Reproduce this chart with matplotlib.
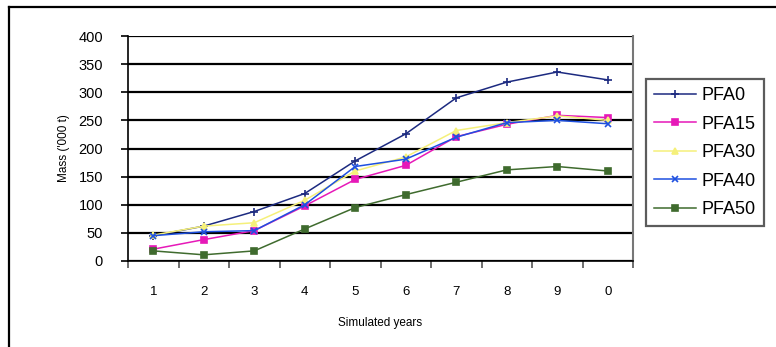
import matplotlib
matplotlib.use("Agg")
import matplotlib.pyplot as plt
from matplotlib.lines import Line2D

plt.rcParams['font.family'] = ['Liberation Sans', 'DejaVu Sans']

years = ["1", "2", "3", "4", "5", "6", "7", "8", "9", "0"]
pfa0 = [45, 62, 88, 120, 178, 226, 290, 318, 336, 322]
pfa15 = [21, 38, 54, 98, 145, 170, 221, 243, 259, 255]
pfa30 = [46, 62, 68, 108, 160, 185, 232, 246, 258, 250]
pfa40 = [45, 52, 54, 100, 168, 181, 220, 246, 250, 244]
pfa50 = [18, 11, 18, 57, 95, 118, 140, 162, 168, 160]
series_names = ["PFA0", "PFA15", "PFA30", "PFA40", "PFA50"]

W, H = 776, 347
fig = plt.figure(figsize=(W / 100, H / 100), dpi=100)
ax = fig.add_axes([128 / W, 1 - 261 / H, (633 - 128) / W, (261 - 36) / H])

x = list(range(len(years)))
styles = [
    (pfa0, '#1c2a80', '+', 6),
    (pfa15, '#e619b8', 's', 4),
    (pfa30, '#f5f07a', '^', 4),
    (pfa40, '#1e50e0', 'x', 5),
    (pfa50, '#3f6b2e', 's', 4),
]
handles = []
for (vals, col, mk, ms), name in zip(styles, series_names):
    h, = ax.plot(x, vals, color=col, lw=1.1, marker=mk, ms=ms,
                 mfc=col, mec=col, mew=1.2, label=name, zorder=3)
    handles.append(h)

ax.set_xlim(-0.5, len(years) - 0.5)
ax.set_ylim(0, 400)
ax.set_yticks(range(0, 401, 50))
ax.set_xticks(x)
ax.set_xticklabels(years)
ax.set_xticks([i - 0.5 for i in range(len(years) + 1)], minor=True)
ax.tick_params(axis='x', which='major', length=0, pad=18, labelsize=9.5)
ax.tick_params(axis='x', which='minor', length=5, width=1.2, direction='out', color='#555555')
ax.tick_params(axis='y', length=5, width=1.2, direction='out', pad=13, labelsize=10.5)
ax.grid(axis='y', color='black', lw=1.6, zorder=1)
ax.set_axisbelow(True)
for s in ['left', 'bottom']:
    ax.spines[s].set_color('black')
    ax.spines[s].set_linewidth(1.2)
ax.spines['right'].set_color('#777777')
ax.spines['right'].set_linewidth(1.5)
ax.spines['top'].set_visible(False)

ax.set_xlabel("Simulated years", fontsize=8.5, labelpad=14)
ax.set_ylabel("Mass ('000 t)", fontsize=8.5, labelpad=6)
ax.yaxis.set_label_coords(-0.115, 0.5)

leg = fig.legend(handles=handles, loc='upper left',
                 bbox_to_anchor=(646 / W, 1 - 79 / H), frameon=True,
                 fancybox=False, fontsize=13, handlelength=2.3,
                 handletextpad=0.35, labelspacing=0.64, borderpad=0.45,
                 borderaxespad=0)
leg.get_frame().set_edgecolor('#333333')
leg.get_frame().set_linewidth(1.6)

# outer chart frame (top and left edges visible)
fig.add_artist(Line2D([9 / W, 1], [1 - 7 / H, 1 - 7 / H], transform=fig.transFigure,
                      color='black', lw=1.6))
fig.add_artist(Line2D([9 / W, 9 / W], [0, 1 - 7 / H], transform=fig.transFigure,
                      color='black', lw=1.6))

fig.savefig("out.png", dpi=100)
